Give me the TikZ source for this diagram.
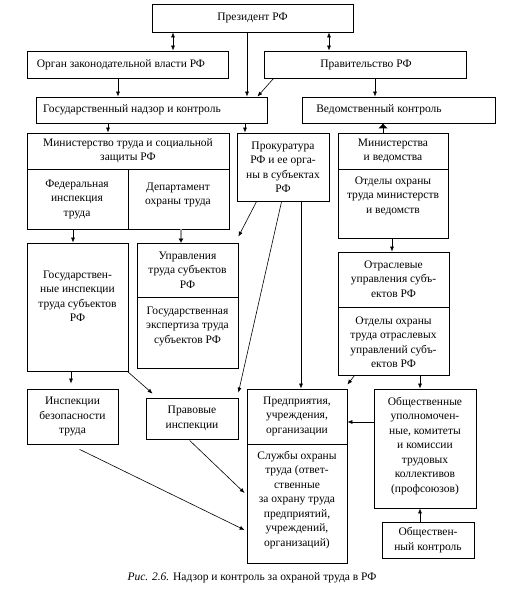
\documentclass[tikz,border=0pt]{standalone}
\usepackage{fontspec}
\setmainfont{Liberation Serif}
\usetikzlibrary{arrows.meta,calc}
\newcommand\bx[5]{\node[box, minimum width={#4-#2}, minimum height={#5-#3}] (#1) at ({(#2+#4)/2},{(#3+#5)/2}) {};}
\begin{document}
\begin{tikzpicture}[x=1pt,y=-1pt,
  box/.style={draw, line width=0.8pt, inner sep=0pt},
  txt/.style={align=center, inner sep=0pt, font=\fontsize{11.5}{14.5}\selectfont},
  arr/.style={-{Latex[length=5pt,width=4pt]}, line width=0.6pt},
  darr/.style={{Latex[length=5pt,width=4pt]}-{Latex[length=5pt,width=4pt]}, line width=0.6pt},
  grayarr/.style={-{Latex[length=4pt,width=5pt,black,line width=0.3pt]}, line width=1.6pt, draw=black!40},
  widearr/.style={-{Latex[length=5pt,width=10pt]}, line width=1pt},
  divider/.style={line width=0.8pt}
]
\fill[white] (0,0) rectangle (508,598);
\path[use as bounding box] (0,0) rectangle (508,598);
% boxes
\bx{pres}{152}{4}{353}{32}
\bx{organ}{27}{51}{228}{78}
\bx{prav}{264}{51}{466}{78}
\bx{gos}{36}{97}{267}{123}
\bx{ved}{302}{97}{495}{123}
\bx{mintrud}{27}{133}{229}{229}
\bx{prok}{237}{133}{329}{201}
\bx{minved}{338}{133}{448}{238}
\bx{gosinsp}{27}{243}{128}{371}
\bx{uprav}{137}{243}{238}{368}
\bx{otrasl}{338}{252}{449}{375}
\bx{inspbez}{27}{389}{118}{444}
\bx{pravov}{146}{398}{238}{439}
\bx{predpr}{247}{389}{347}{563}
\bx{obsch}{374}{389}{476}{508}
\bx{obkontr}{382}{522}{474}{558}
% dividers
\draw[divider] (27,169) -- (229,169) (128,169) -- (128,229);
\draw[divider] (338,169) -- (448,169);
\draw[divider] (137,297) -- (238,297);
\draw[divider] (338,307) -- (449,307);
\draw[divider] (247,444) -- (347,444);
% texts
\node[txt] (pres-t) at (pres) {Президент РФ};
\node[txt] (organ-t) at (121,64.5) {Орган законодательной власти РФ};
\node[txt] (prav-t) at (366,64.5) {Правительство РФ};
\node[txt,anchor=west] (gos-t) at (43,110) {Государственный надзор и контроль};
\node[txt] (ved-t) at (379,110) {Ведомственный контроль};
\node[txt] (mintrud-t) at (128,151) {Министерство труда и социальной\\защиты РФ};
\node[txt] (fed-t) at (77,199) {Федеральная\\инспекция\\труда};
\node[txt] (dep-t) at (178,195) {Департамент\\охраны труда};
\node[txt] (prok-t) at (283,167) {Прокуратура\\РФ и ее орга-\\ны в субъектах\\РФ};
\node[txt] (minved-t) at (393,151) {Министерства\\и ведомства};
\node[txt] (otdmin-t) at (393,196) {Отделы охраны\\труда министерств\\и ведомств};
\node[txt] (gosinsp-t) at (77.5,296) {Государствен-\\ные инспекции\\труда субъектов\\РФ};
\node[txt] (uprav-t) at (187.5,270) {Управления\\труда субъектов\\РФ};
\node[txt] (eksp-t) at (187.5,326) {Государственная\\экспертиза труда\\субъектов РФ};
\node[txt] (otrasl-t) at (393.5,279) {Отраслевые\\управления субъ-\\ектов РФ};
\node[txt] (otdotr-t) at (393.5,342) {Отделы охраны\\труда отраслевых\\управлений субъ-\\ектов РФ};
\node[txt] (inspbez-t) at (inspbez) {Инспекции\\безопасности\\труда};
\node[txt] (pravov-t) at (pravov) {Правовые\\инспекции};
\node[txt] (predpr-t) at (297,416) {Предприятия,\\учреждения,\\организации};
\node[txt] (sluzh-t) at (297,500) {Службы охраны\\труда (ответ-\\ственные\\за охрану труда\\предприятий,\\учреждений,\\организаций)};
\node[txt] (obsch-t) at (425,446) {Общественные\\уполномочен-\\ные, комитеты\\и комиссии\\трудовых\\коллективов\\(профсоюзов)};
\node[txt] (obkontr-t) at (obkontr) {Обществен-\\ный контроль};
\node[txt] (cap) at (252,578) {\textit{Рис. 2.6.} Надзор и контроль за охраной труда в РФ};
% x positions of vertical connectors
\path (173,0) coordinate (xa) (329,0) coordinate (xb) (247,0) coordinate (xc)
      (118,0) coordinate (xd) (375,0) coordinate (xe) (108,0) coordinate (xf)
      (245,0) coordinate (xg) (383,0) coordinate (xh) (73,0) coordinate (xi)
      (181,0) coordinate (xj) (301,0) coordinate (xk) (392,0) coordinate (xl)
      (420,0) coordinate (xm) (71,0) coordinate (xn) (0,422) coordinate (yq);
% connectors
\draw[darr] (pres.south -| xa) -- (organ.north -| xa);
\draw[darr] (pres.south -| xb) -- (prav.north -| xb);
\draw[arr] (pres.south -| xc) -- (gos.north -| xc);
\draw[arr] (organ.south -| xd) -- (gos.north -| xd);
\draw[arr] ([xshift=10pt]prav.south west) -- ([xshift=-10pt]gos.north east);
\draw[arr] (prav.south -| xe) -- (ved.north -| xe);
\draw[arr] (gos.south -| xf) -- (mintrud.north -| xf);
\draw[arr] (gos.south -| xg) -- (prok.north -| xg);
\draw[widearr] (minved.north -| xh) -- (ved.south -| xh);
\draw[arr] (mintrud.south -| xi) -- (gosinsp.north -| xi);
\draw[grayarr] (mintrud.south -| xj) -- (uprav.north -| xj);
\draw[arr] ([xshift=20pt]prok.south west) -- ([yshift=6pt]uprav.north east);
\draw[arr] ([xshift=45pt]prok.south west) -- ([yshift=5pt]pravov.north east);
\draw[arr] (prok.south -| xk) -- (predpr.north -| xk);
\draw[arr] (minved.south -| xl) -- (otrasl.north -| xl);
\draw[arr] ([xshift=17pt]otrasl.south west) -- ([yshift=4pt]predpr.north east);
\draw[arr] (otrasl.south -| xm) -- (obsch.north -| xm);
\draw[arr] (gosinsp.south -| xn) -- ([yshift=5pt]inspbez.north -| xn);
\draw[arr] ([xshift=-1pt]gosinsp.south east) -- ([xshift=7pt,yshift=4pt]pravov.north west);
\draw[arr] ([xshift=44pt,yshift=-1pt]pravov.south west) -- ([xshift=-2pt,yshift=-17pt]predpr.west);
\draw[arr] ([xshift=53pt,yshift=-5pt]inspbez.south west) -- ([xshift=-2pt,yshift=-54pt]predpr.west);
\draw[arr] (obsch.west |- yq) -- (predpr.east |- yq);
\draw[arr] (obkontr.north -| xm) -- (obsch.south -| xm);
\end{tikzpicture}
\end{document}
